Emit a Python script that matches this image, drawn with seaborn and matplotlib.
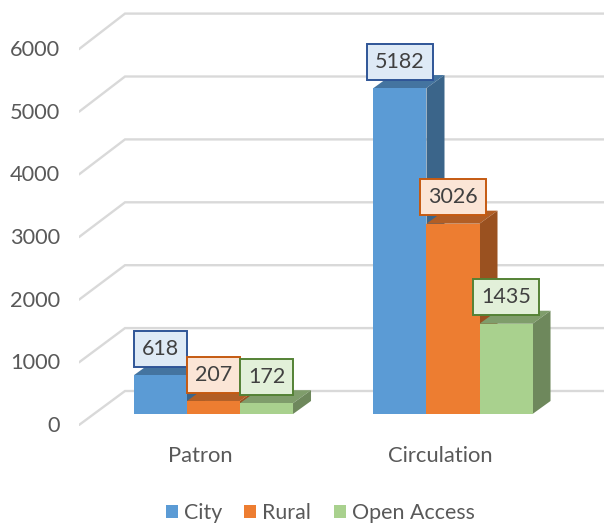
import matplotlib
matplotlib.use("Agg")
import matplotlib.colors as mcolors
import matplotlib.pyplot as plt
import pandas as pd
import seaborn as sns
from matplotlib.patches import Polygon

categories = ["Patron", "Circulation"]
series = ["City", "Rural", "Open Access"]
city = [618, 5182]
rural = [207, 3026]
open_access = [172, 1435]
y_ticks = [0, 1000, 2000, 3000, 4000, 5000, 6000]

colors = ["#5B9BD5", "#ED7D31", "#A9D18E"]
box_faces = ["#DEEAF6", "#FBE5D6", "#E2F0D9"]
box_edges = ["#2F5597", "#C55A11", "#548235"]

# pixel geometry of the fake 3D box, reference is 604x527
PX_PER_CAT = 239.5
PX_PER_VAL = 62.9 / 1000
DEPTH_X = 18 / PX_PER_CAT
DEPTH_Y = 13 / PX_PER_VAL
AX_LEFT, AX_BOTTOM = 79, 426
X_MIN = (AX_LEFT - 213.5) / PX_PER_CAT
X_MAX = (604 - 213.5) / PX_PER_CAT
Y_MIN = (414 - AX_BOTTOM) / PX_PER_VAL
Y_MAX = 414 / PX_PER_VAL
WALL_BACK_X = (125 - 213.5) / PX_PER_CAT
WALL_BACK_Y = 23 / PX_PER_VAL
WALL_FRONT_Y = -11 / PX_PER_VAL

sns.set_theme(style="white")
plt.rcParams["font.family"] = ["Lato", "DejaVu Sans"]

df = pd.DataFrame({
    "category": categories * 3,
    "series": [s for s in series for _ in categories],
    "value": city + rural + open_access,
})

fig = plt.figure(figsize=(6.04, 5.27), dpi=100)
ax = fig.add_axes([AX_LEFT / 604, 1 - AX_BOTTOM / 527, 1 - AX_LEFT / 604, AX_BOTTOM / 527])

sns.barplot(
    data=df, x="category", y="value", hue="series", hue_order=series,
    palette=colors, width=0.664, gap=0, saturation=1, linewidth=0, ax=ax, zorder=3,
)

# walls: each gridline runs up the left side and then along the back
for tick in y_ticks:
    ax.plot(
        [X_MIN, WALL_BACK_X, X_MAX],
        [tick * 0.996 + WALL_FRONT_Y, tick + WALL_BACK_Y, tick + WALL_BACK_Y],
        color="#D9D9D9", lw=1.7, zorder=1, solid_joinstyle="miter",
    )

# top and side faces, later series sit on top of earlier ones
for i, container in enumerate(ax.containers):
    rgb = mcolors.to_rgb(colors[i])
    top_col = tuple(c * 0.75 for c in rgb)
    side_col = tuple(c * 0.65 for c in rgb)
    for patch in container:
        x0, w, h = patch.get_x(), patch.get_width(), patch.get_height()
        x1 = x0 + w
        patch.set_zorder(3 + i + 0.5)
        ax.add_patch(Polygon(
            [(x0, h), (x1, h), (x1 + DEPTH_X, h + DEPTH_Y), (x0 + DEPTH_X, h + DEPTH_Y)],
            facecolor=top_col, edgecolor="none", zorder=3 + i,
        ))
        ax.add_patch(Polygon(
            [(x1, 0), (x1 + DEPTH_X, DEPTH_Y), (x1 + DEPTH_X, h + DEPTH_Y), (x1, h)],
            facecolor=side_col, edgecolor="none", zorder=3 + i,
        ))
        ax.annotate(
            f"{int(h)}", (x0 + w / 2, h), xytext=(0, 19), textcoords="offset points",
            ha="center", va="center", fontsize=15.5, color="#404040", zorder=10,
            bbox=dict(boxstyle="square,pad=0.37", facecolor=box_faces[i],
                      edgecolor=box_edges[i], linewidth=1.4),
        )

ax.set_xlim(X_MIN, X_MAX)
ax.set_ylim(Y_MIN, Y_MAX)

ax.set_yticks([t * 0.996 - 158 for t in y_ticks])
ax.set_yticklabels([str(t) for t in y_ticks], fontsize=15.7, color="#595959")
ax.set_xticks([i - 13 / PX_PER_CAT for i in range(len(categories))])
ax.set_xticklabels(categories, fontsize=15.8, color="#595959")
ax.tick_params(axis="y", length=0, pad=13.5)
ax.tick_params(axis="x", length=0, pad=14.5)
ax.set_xlabel("")
ax.set_ylabel("")
sns.despine(ax=ax, left=True, bottom=True)

ax.legend(
    ncol=3, frameon=False, loc="center", fontsize=15.4, labelcolor="#595959",
    bbox_to_anchor=(320 / 604, 1 - 513 / 527), bbox_transform=fig.transFigure,
    handlelength=0.56, handleheight=0.56, handletextpad=0.28, columnspacing=1.05,
)

fig.savefig("out.png", dpi=100)
